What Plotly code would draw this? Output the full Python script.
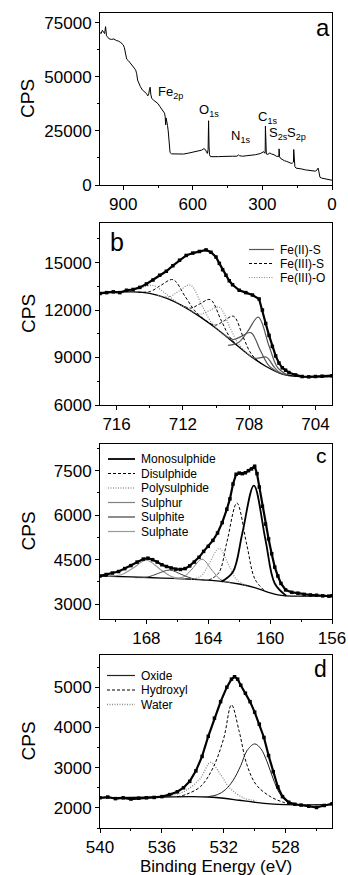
import plotly.graph_objects as go

# ---------------- Panel a : survey spectrum ----------------
A_BE = [1000, 995, 990, 985, 980, 976, 972, 968, 960, 950, 940, 930, 920, 910, 900, 895, 890, 885,
        878, 870, 860, 852, 846, 842, 838, 832, 826, 818, 810, 800, 794, 790, 787, 784, 781, 777,
        770, 760, 750, 742, 735, 728, 722, 719, 717, 715, 712, 709, 706, 703, 701, 698, 692, 680,
        660, 640, 620, 600, 580, 562, 552, 546, 541, 537, 534, 532, 530, 528, 524, 510, 490, 470,
        450, 430, 410, 403, 398, 385, 370, 350, 330, 310, 300, 294, 290, 288, 287, 285, 283, 276,
        268, 260, 250, 240, 232, 229, 228, 226, 222, 215, 205, 195, 185, 176, 170, 166, 165, 163,
        160, 155, 145, 130, 115, 100, 85, 72, 65, 60, 58, 55, 52, 45, 35, 20, 10, 0]
A_CPS = [70500, 70000, 71500, 70500, 70000, 73200, 69000, 68500, 67500, 67300, 67500, 66800, 66500,
         65800, 64800, 63500, 60500, 58200, 57500, 56500, 55300, 54000, 53000, 51500, 48500, 46500,
         45500, 44000, 43200, 42300, 41200, 42000, 44000, 45200, 42000, 40000, 39300, 38500, 37600,
         36300, 35200, 34300, 33200, 31500, 27800, 31000, 29800, 27500, 25000, 21000, 16500, 15000,
         14400, 14300, 14200, 14300, 14700, 15100, 15500, 16100, 16800, 16400, 15300, 14600, 16500,
         29700, 18000, 14000, 13100, 13000, 13100, 13200, 13100, 13300, 13300, 13900, 13500, 13300,
         13500, 13700, 14000, 14500, 14900, 15400, 14700, 15200, 27200, 16000, 14300, 14200, 14800,
         14300, 14000, 13300, 13000, 13200, 16700, 13100, 12300, 11800, 11200, 10900, 10600, 10000,
         10200, 10600, 16400, 10500, 8500, 7800, 7500, 7400, 7000, 6900, 6600, 6400, 6900, 7800,
         7000, 5200, 3600, 3200, 3000, 2700, 2500, 2200]
A_PEAK_LABELS = ["Fe<sub>2p</sub>", "O<sub>1s</sub>", "N<sub>1s</sub>", "C<sub>1s</sub>",
                 "S<sub>2s</sub>", "S<sub>2p</sub>"]
A_PEAK_BE = [697, 531, 393, 279, 232, 152]
A_PEAK_CPS = [42700, 34400, 22200, 31400, 23900, 23900]

# ---------------- Panel b : Fe 2p ----------------
B_DATA_BE = [717.0, 716.6, 716.2, 715.8, 715.4, 715.0, 714.6, 714.2, 713.8, 713.4, 713.0, 712.6,
             712.2, 711.8, 711.4, 711.0, 710.6, 710.3, 710.0, 709.8, 709.6, 709.4, 709.2, 709.0,
             708.6, 708.2, 707.8, 707.4, 707.2, 707.0, 706.8, 706.6, 706.4, 706.2, 706.0, 705.8,
             705.6, 705.2, 704.8, 704.4, 704.0, 703.6, 703.0]
B_DATA_CPS = [13050, 13100, 13150, 13100, 13250, 13300, 13430, 13650, 13900, 14200, 14450, 14800,
              15150, 15450, 15600, 15700, 15800, 15650, 15350, 14950, 14550, 14200, 13850, 13600,
              13250, 13100, 12950, 12700, 12000, 11150, 10400, 9700, 9100, 8650, 8350, 8200,
              8050, 7900, 7800, 7780, 7800, 7820, 7850]
B_BG = [(717.0, 13100), (715.0, 13150), (714.0, 13050), (713.0, 12750), (712.0, 12250),
        (711.0, 11600), (710.0, 10850), (709.0, 10000), (708.0, 9150), (707.0, 8450),
        (706.0, 7950), (705.0, 7800), (703.0, 7800)]
B_FE2S_1 = [(709.27, 9770), (708.62, 9970), (708.10, 10630), (707.45, 11550), (706.80, 9730),
            (706.28, 8360), (705.63, 7870)]
B_FE2S_2 = [(708.07, 9200), (707.67, 8964), (707.35, 8980), (706.95, 9020), (706.55, 8480),
            (706.23, 8104), (705.83, 7910)]
B_FE2S_3 = [(709.58, 10500), (708.98, 10140), (708.50, 10320), (707.90, 10570), (707.30, 9400),
            (706.82, 8500), (706.22, 8040)]
B_FE3S_1 = [(710.63, 11330), (710.03, 11045), (709.55, 11295), (708.95, 11610), (708.35, 10265),
            (707.87, 9225), (707.27, 8630)]
B_FE3S_2 = [(712.17, 12350), (711.52, 12124), (711.00, 12375), (710.35, 12660), (709.70, 11375),
            (709.18, 10314), (708.53, 9600)]
B_FE3S_3 = [(714.70, 13130), (713.95, 13183), (713.35, 13545), (712.60, 13920), (711.85, 12835),
            (711.25, 11923), (710.50, 11230)]
B_FE3O_1 = [(711.62, 12030), (710.97, 11740), (710.45, 11940), (709.80, 12180), (709.15, 10880),
            (708.63, 9840), (707.98, 9130)]
B_FE3O_2 = [(713.51, 12920), (712.81, 12840), (712.25, 13190), (711.55, 13580), (710.85, 12290),
            (710.29, 11240), (709.59, 10510)]
B_FE3O_3 = [(715.90, 13150), (715.15, 13208), (714.55, 13395), (713.80, 13550), (713.05, 13045),
            (712.45, 12558), (711.70, 12070)]
B_LEGEND = ["Fe(II)-S", "Fe(III)-S", "Fe(III)-O"]

# ---------------- Panel c : S 2p ----------------
C_DATA_BE = [171.0, 170.6, 170.2, 169.8, 169.4, 169.0, 168.6, 168.2, 167.9, 167.6, 167.3, 167.0,
             166.7, 166.4, 166.1, 165.8, 165.5, 165.2, 164.9, 164.6, 164.3, 164.0, 163.7, 163.4,
             163.1, 162.8, 162.6, 162.4, 162.2, 162.0, 161.8, 161.6, 161.4, 161.2, 161.0, 160.85,
             160.7, 160.5, 160.3, 160.1, 159.9, 159.7, 159.5, 159.3, 159.0, 158.6, 158.2, 157.8,
             157.4, 157.0, 156.6, 156.2, 156.0]
C_DATA_CPS = [3950, 4000, 4050, 4100, 4200, 4300, 4420, 4520, 4550, 4500, 4420, 4330, 4270, 4220,
              4180, 4170, 4200, 4290, 4420, 4580, 4780, 4950, 5150, 5400, 5750, 6200, 6550, 7050,
              7380, 7420, 7400, 7430, 7500, 7560, 7650, 7400, 6950, 6300, 5700, 5200, 4700, 4250,
              3950, 3700, 3480, 3400, 3370, 3330, 3310, 3300, 3280, 3270, 3280]
C_BG = [(171.0, 3950), (169.0, 3920), (167.0, 3880), (165.0, 3840), (164.0, 3810), (163.0, 3760),
        (162.0, 3680), (161.0, 3560), (160.0, 3380), (159.5, 3310), (159.0, 3280), (156.0, 3280)]
C_MONO = [(163.15, 3760), (162.40, 4096), (161.80, 5385), (161.05, 7000), (160.30, 5165),
          (159.70, 3696), (158.95, 3280)]
C_DI = [(163.97, 3810), (163.32, 4058), (162.80, 5085), (162.15, 6410), (161.50, 4980),
        (160.98, 3843), (160.33, 3440)]
C_POLY = [(165.12, 3840), (164.47, 3948), (163.95, 4360), (163.30, 4880), (162.65, 4290),
          (162.13, 3808), (161.48, 3620)]
C_SULPHUR = [(166.22, 3865), (165.57, 3923), (165.05, 4185), (164.40, 4515), (163.75, 4140),
             (163.23, 3838), (162.58, 3735)]
C_SULPHITE = [(168.74, 3895), (167.94, 3910), (167.30, 4025), (166.50, 4150), (165.70, 3995),
              (165.06, 3870), (164.26, 3820)]
C_SULPHATE = [(170.52, 3945), (169.62, 3992), (168.90, 4205), (168.00, 4480), (167.10, 4172),
              (166.38, 3932), (165.48, 3850)]
C_LEGEND = ["Monosulphide", "Disulphide", "Polysulphide", "Sulphur", "Sulphite", "Sulphate"]

# ---------------- Panel d : O 1s ----------------
D_DATA_BE = [540.0, 539.5, 539.0, 538.5, 538.0, 537.5, 537.0, 536.5, 536.0, 535.5, 535.0, 534.6,
             534.2, 533.8, 533.4, 533.0, 532.6, 532.2, 531.8, 531.5, 531.3, 531.1, 530.9, 530.6,
             530.3, 530.0, 529.7, 529.4, 529.1, 528.8, 528.5, 528.2, 527.8, 527.4, 527.0, 526.5,
             526.0, 525.5, 525.0]
D_DATA_CPS = [2250, 2270, 2230, 2250, 2220, 2240, 2250, 2260, 2280, 2330, 2400, 2500, 2660, 2920,
              3280, 3780, 4230, 4640, 5000, 5200, 5260, 5200, 5050, 4850, 4640, 4380, 4080, 3750,
              3300, 2900, 2520, 2280, 2140, 2090, 2070, 2040, 2010, 2060, 2100]
D_BG = [(540.0, 2250), (536.0, 2270), (534.0, 2280), (533.0, 2270), (532.0, 2240), (531.0, 2190),
        (530.0, 2140), (529.0, 2100), (528.0, 2080), (525.0, 2080)]
D_OXIDE = [(533.0, 2280), (532.4, 2330), (531.9, 2450), (531.4, 2680), (530.9, 3050), (530.5, 3420),
           (530.0, 3590), (529.6, 3470), (529.2, 3150), (528.8, 2720), (528.4, 2370), (527.9, 2150),
           (527.2, 2080)]
D_HYDROXYL = [(535.0, 2275), (534.4, 2340), (533.5, 2530), (532.7, 2990), (532.0, 3730),
              (531.5, 4560), (531.0, 3900), (530.5, 3070), (529.9, 2575), (529.0, 2285),
              (528.15, 2140), (527.5, 2080)]
D_WATER = [(535.5, 2300), (534.8, 2370), (534.2, 2490), (533.5, 2740), (532.85, 3130), (532.2, 2825),
           (531.6, 2490), (530.7, 2245), (529.9, 2180)]
D_LEGEND = ["Oxide", "Hydroxyl", "Water"]

PANEL_LETTERS = ["a", "b", "c", "d"]
X_TITLE = "Binding Energy (eV)"
Y_TITLE = "CPS"

# ---------------- figure ----------------
W, H, L, R, T, B = 348, 875, 100, 16, 13, 47
PW, PH = W - L - R, H - T - B
FONT = "Liberation Sans, Arial, Helvetica, sans-serif"


def px_x(px):
    return (px - L) / PW


def px_y(py):
    return (H - B - py) / PH


STY = {
    "fe2s": dict(color="#555555", width=1.2, dash="solid"),
    "fe3s": dict(color="#000000", width=1.0, dash="3px,2px"),
    "fe3o": dict(color="#8a8a8a", width=1.2, dash="1px,1.5px"),
    "mono": dict(color="#000000", width=1.8, dash="solid"),
    "di": dict(color="#000000", width=1.0, dash="3px,2px"),
    "poly": dict(color="#9a9a9a", width=1.3, dash="1px,1.5px"),
    "sulphur": dict(color="#808080", width=1.0, dash="solid"),
    "sulphite": dict(color="#404040", width=1.0, dash="solid"),
    "sulphate": dict(color="#9a9a9a", width=1.2, dash="solid"),
    "oxide": dict(color="#222222", width=1.0, dash="solid"),
    "hydroxyl": dict(color="#000000", width=1.0, dash="3px,2px"),
    "water": dict(color="#8a8a8a", width=1.3, dash="1px,1.5px"),
    "bg": dict(color="#000000", width=1.3, dash="solid"),
}

fig = go.Figure()


def add_curve(pts, sty, xa, ya):
    fig.add_trace(go.Scatter(x=[p[0] for p in pts], y=[p[1] for p in pts], mode="lines",
                             line=dict(shape="spline", smoothing=1.0, **sty),
                             xaxis=xa, yaxis=ya, showlegend=False, hoverinfo="skip"))


def add_data(xs, ys, xa, ya):
    fig.add_trace(go.Scatter(x=xs, y=ys, mode="lines+markers",
                             line=dict(color="black", width=2.2),
                             marker=dict(symbol="square", size=3.5, color="black"),
                             xaxis=xa, yaxis=ya, showlegend=False))


# panel a
fig.add_trace(go.Scatter(x=A_BE, y=A_CPS, mode="lines", line=dict(color="black", width=1),
                         xaxis="x", yaxis="y", showlegend=False))

# panel b
add_curve(B_BG, STY["bg"], "x2", "y2")
for comp in (B_FE2S_1, B_FE2S_2, B_FE2S_3):
    add_curve(comp, STY["fe2s"], "x2", "y2")
for comp in (B_FE3S_1, B_FE3S_2, B_FE3S_3):
    add_curve(comp, STY["fe3s"], "x2", "y2")
for comp in (B_FE3O_1, B_FE3O_2, B_FE3O_3):
    add_curve(comp, STY["fe3o"], "x2", "y2")
add_data(B_DATA_BE, B_DATA_CPS, "x2", "y2")

# panel c
add_curve(C_BG, STY["bg"], "x3", "y3")
for comp, k in ((C_SULPHATE, "sulphate"), (C_SULPHITE, "sulphite"), (C_SULPHUR, "sulphur"),
                (C_POLY, "poly"), (C_DI, "di"), (C_MONO, "mono")):
    add_curve(comp, STY[k], "x3", "y3")
add_data(C_DATA_BE, C_DATA_CPS, "x3", "y3")

# panel d
add_curve(D_BG, STY["bg"], "x4", "y4")
for comp, k in ((D_WATER, "water"), (D_HYDROXYL, "hydroxyl"), (D_OXIDE, "oxide")):
    add_curve(comp, STY[k], "x4", "y4")
add_data(D_DATA_BE, D_DATA_CPS, "x4", "y4")

tickfont = dict(family=FONT, size=17, color="black")


def xax(rng, dtick, minor, anchor):
    return dict(range=rng, dtick=dtick, tick0=0, domain=[0, 1], anchor=anchor, automargin=False,
                showline=True, linecolor="black", linewidth=1, mirror=True,
                ticks="outside", ticklen=4, tickwidth=1, tickcolor="black", tickformat="d",
                showgrid=False, zeroline=False, tickfont=tickfont,
                minor=dict(dtick=minor, tick0=0, ticks="outside", ticklen=2, tickcolor="black",
                           showgrid=False))


def yax(rng, dtick, minor, dom, anchor):
    return dict(range=rng, dtick=dtick, tick0=0, domain=dom, anchor=anchor, automargin=False,
                showline=True, linecolor="black", linewidth=1, mirror=True,
                ticks="outside", ticklen=4, tickwidth=1, tickcolor="black", tickformat="d",
                showgrid=False, zeroline=False, tickfont=tickfont,
                minor=dict(dtick=minor, tick0=0, ticks="outside", ticklen=2, tickcolor="black",
                           showgrid=False))


PANEL_Y = [(185, 13), (405, 223), (619, 444), (828, 655)]

fig.update_layout(
    width=W, height=H, margin=dict(l=L, r=R, t=T, b=B, autoexpand=False),
    paper_bgcolor="white", plot_bgcolor="white", showlegend=False,
    font=dict(family=FONT, color="black"),
    xaxis=xax([1000, 0], 300, 150, "y"),
    yaxis=yax([0, 79500], 25000, 12500, [px_y(185), px_y(13)], "x"),
    xaxis2=xax([717, 703], 4, 2, "y2"),
    yaxis2=yax([6000, 17500], 3000, 1500, [px_y(405), px_y(223)], "x2"),
    xaxis3=xax([171, 156], 4, 2, "y3"),
    yaxis3=yax([2500, 8400], 1500, 750, [px_y(619), px_y(444)], "x3"),
    xaxis4=xax([540, 525], 4, 2, "y4"),
    yaxis4=yax([1500, 5800], 1000, 500, [px_y(828), px_y(655)], "x4"),
)

ann = []
shapes = []
# axis titles
for bot, top in PANEL_Y:
    ann.append(dict(x=px_x(28), y=px_y((bot + top) / 2), xref="paper", yref="paper",
                    text=Y_TITLE, textangle=-90, showarrow=False, xanchor="center",
                    yanchor="middle", font=dict(family=FONT, size=19, color="black")))
ann.append(dict(x=px_x(216), y=px_y(866), xref="paper", yref="paper", text=X_TITLE,
                showarrow=False, xanchor="center", yanchor="middle",
                font=dict(family=FONT, size=17, color="black")))
# survey peak labels
for lab, bx, by in zip(A_PEAK_LABELS, A_PEAK_BE, A_PEAK_CPS):
    ann.append(dict(x=bx, y=by, xref="x", yref="y", text=lab, showarrow=False,
                    xanchor="center", yanchor="middle",
                    font=dict(family=FONT, size=13, color="black")))
# panel letters
for lab, (lx, ly, fs) in zip(PANEL_LETTERS, [(323, 27, 24), (117, 242, 25), (321, 455, 21),
                                             (320, 669, 23)]):
    ann.append(dict(x=px_x(lx), y=px_y(ly), xref="paper", yref="paper", text=lab,
                    xanchor="center", yanchor="middle",
                    showarrow=False, font=dict(family=FONT, size=fs, color="black")))


def legend(labels, styles, rows, x0, x1, xt):
    for lab, sty, py in zip(labels, styles, rows):
        shapes.append(dict(type="line", xref="paper", yref="paper", x0=px_x(x0), x1=px_x(x1),
                           y0=px_y(py), y1=px_y(py),
                           line=dict(color=sty["color"], width=max(sty["width"], 1.2),
                                     dash=sty["dash"])))
        ann.append(dict(x=px_x(xt), y=px_y(py), xref="paper", yref="paper", text=lab,
                        xanchor="left", yanchor="middle", showarrow=False,
                        font=dict(family=FONT, size=12, color="black")))


legend(B_LEGEND, [STY["fe2s"], STY["fe3s"], STY["fe3o"]], [249.5, 263.5, 277.5], 249, 274, 278)
legend(C_LEGEND, [STY["mono"], STY["di"], STY["poly"], STY["sulphur"], STY["sulphite"],
                  STY["sulphate"]], [459, 473.5, 488, 502.5, 517, 531.5], 108, 135, 139)
legend(D_LEGEND, [STY["oxide"], STY["hydroxyl"], STY["water"]], [675.5, 690, 704.5], 107, 135, 139)

fig.update_layout(annotations=ann, shapes=shapes)
fig.write_html("out.html")
